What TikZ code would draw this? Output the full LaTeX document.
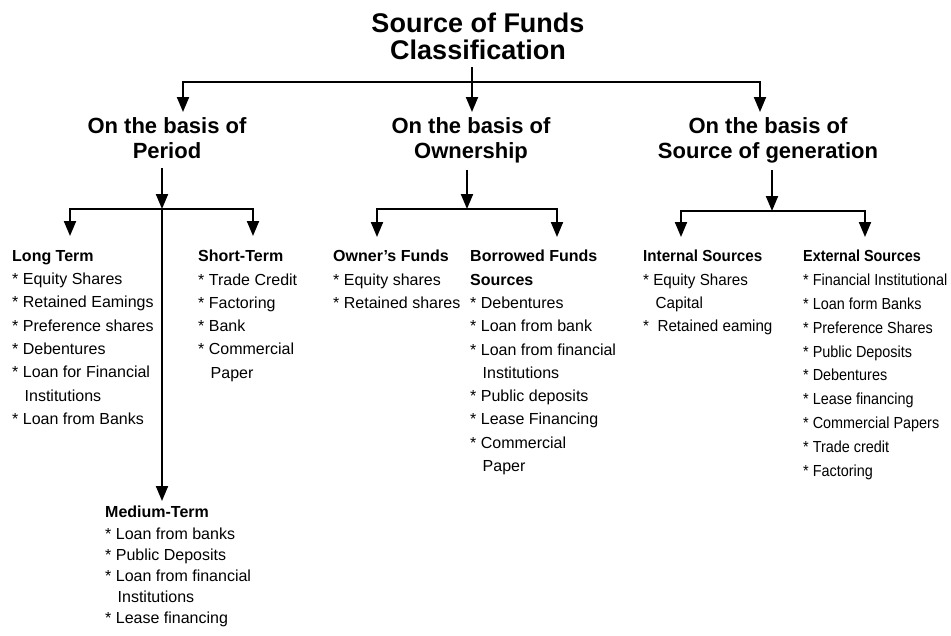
\documentclass[tikz,border=0pt]{standalone}
\usepackage{fontspec}
\setmainfont{Liberation Sans}
\newfontfamily\narrowA{Liberation Sans}[FakeStretch=0.95]
\newfontfamily\narrowB{Liberation Sans}[FakeStretch=0.9]
\usetikzlibrary{arrows.meta}
\newcommand\bul{*\ }
\newcommand\ind{\hspace*{12.5pt}}
\begin{document}
\begin{tikzpicture}[x=1pt,y=-1pt,
  conn/.style={line width=2pt},
  arr/.style={conn,-{Triangle[length=15pt,width=12pt]}},
  ttl/.style={font=\fontsize{27}{27}\selectfont\bfseries,align=center,anchor=north,inner sep=0pt},
  hdr/.style={font=\fontsize{22}{25}\selectfont\bfseries,align=center,anchor=north,inner sep=0pt},
  lst/.style={font=\fontsize{16}{23.3}\selectfont,align=left,anchor=north west,inner sep=0pt},
]
\useasboundingbox (0,0) rectangle (951,635);

% title and headers
\node[ttl] (t) at (478,13) {Source of Funds\\Classification};
\node[hdr] (h1) at (167,117) {On the basis of\\Period};
\node[hdr] (h2) at (471,117) {On the basis of\\Ownership};
\node[hdr] (h3) at (768,117) {On the basis of\\Source of generation};

% lists
\node[lst] (lt) at (12,250) {{\bfseries Long Term}\\\bul Equity Shares\\\bul Retained Eamings\\\bul Preference shares\\\bul Debentures\\\bul Loan for Financial\\\ind Institutions\\\bul Loan from Banks};
\node[lst] (st) at (198,250) {{\bfseries Short-Term}\\\bul Trade Credit\\\bul Factoring\\\bul Bank\\\bul Commercial\\\ind Paper};
\node[lst,font=\fontsize{16}{21.2}\selectfont] (mt) at (105,506) {{\bfseries Medium-Term}\\\bul Loan from banks\\\bul Public Deposits\\\bul Loan from financial\\\ind Institutions\\\bul Lease financing};
\node[lst] (of) at (333,250) {{\bfseries Owner's Funds}\\\bul Equity shares\\\bul Retained shares};
\node[lst] (bf) at (470,250) {{\bfseries Borrowed Funds}\\{\bfseries Sources}\\\bul Debentures\\\bul Loan from bank\\\bul Loan from financial\\\ind Institutions\\\bul Public deposits\\\bul Lease Financing\\\bul Commercial\\\ind Paper};
\node[lst,font=\fontsize{16}{23.3}\selectfont\narrowA] (is) at (643,250) {{\bfseries Internal Sources}\\\bul Equity Shares\\\ind Capital\\\bul\ Retained eaming};
\node[lst,font=\fontsize{16}{23.8}\selectfont\narrowB] (es) at (803,250) {{\bfseries External Sources}\\\bul Financial Institutional\\\bul Loan form Banks\\\bul Preference Shares\\\bul Public Deposits\\\bul Debentures\\\bul Lease financing\\\bul Commercial Papers\\\bul Trade credit\\\bul Factoring};

% junction coordinates
\coordinate (t0) at (472,67);
\coordinate (j0) at (472,82);
\coordinate (a1) at (183,112);
\coordinate (a2) at (472,112);
\coordinate (a3) at (760,112);

\coordinate (p0) at (162,168);
\coordinate (pj) at (162,209);
\coordinate (pl) at (70,236);
\coordinate (pr) at (253,236);
\coordinate (pm) at (162,501);

\coordinate (o0) at (467,170);
\coordinate (oj) at (467,209);
\coordinate (ol) at (377,237);
\coordinate (or) at (557,237);

\coordinate (g0) at (772,170);
\coordinate (gj) at (772,211);
\coordinate (gl) at (681,237);
\coordinate (gr) at (865,237);

% connectors
\draw[arr] (t0) -- (a2);
\draw[arr] (j0) -| (a1);
\draw[arr] (j0) -| (a3);

\draw[arr] (p0) -- (pj);
\draw[arr] (pj) -| (pl);
\draw[arr] (pj) -| (pr);
\draw[arr] (pj) -- (pm);

\draw[arr] (o0) -- (oj);
\draw[arr] (oj) -| (ol);
\draw[arr] (oj) -| (or);

\draw[arr] (g0) -- (gj);
\draw[arr] (gj) -| (gl);
\draw[arr] (gj) -| (gr);
\end{tikzpicture}
\end{document}
